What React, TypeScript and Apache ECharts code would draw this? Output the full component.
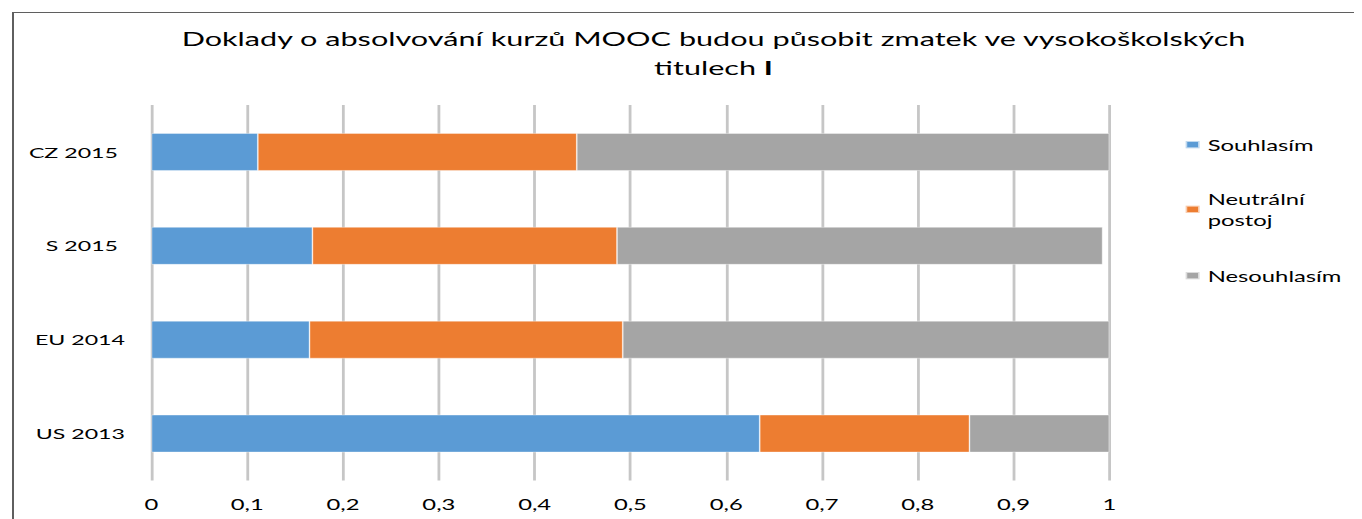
import React, { useEffect, useRef } from "react";
import * as echarts from "echarts";

const categories = ["CZ 2015 ", "S 2015 ", "EU 2014", "US 2013"];
const agree = [0.111, 0.168, 0.165, 0.635];
const neutral = [0.333, 0.318, 0.327, 0.219];
const disagree = [0.556, 0.507, 0.508, 0.146];
const seriesNames = ["Souhlasím", "Neutrální postoj", "Nesouhlasím"];
const colors = ["#5B9BD5", "#ED7D31", "#A5A5A5"];
const tickLabels = ["0", "0,1", "0,2", "0,3", "0,4", "0,5", "0,6", "0,7", "0,8", "0,9", "1"];
const titleLine1 = "Doklady o absolvování kurzů MOOC budou působit zmatek ve vysokoškolských";
const titleLine2a = "titulech ";
const titleLine2b = "I";

const SX = 1.62;
const OUTER_W = 1354;
const OUTER_H = 511;
const FONT = "Lato, 'Open Sans', sans-serif";

export default function App() {
  const ref = useRef<HTMLDivElement>(null);

  useEffect(() => {
    if (!ref.current) return;
    const chart = echarts.init(ref.current, null, { renderer: "svg" });
    const W = OUTER_W / SX;
    const px = (pageX: number) => (pageX - 8) / SX;
    const gridLeft = px(151.5);
    const gridRightEdge = px(1109);
    const legendLeft = px(1184);
    const titleStyle = { fontFamily: FONT, fontSize: 18.9, fontWeight: "normal" as const, color: "#000", lineHeight: 29 };
    const legendBase = {
      orient: "vertical" as const,
      left: legendLeft,
      itemWidth: 14 / SX,
      itemHeight: 7.3,
      padding: 0,
      icon: "rect",
      textStyle: { fontFamily: FONT, fontSize: 14.7, color: "#000", lineHeight: 21 },
    };
    chart.setOption({
      animation: false,
      color: colors,
      title: {
        text: `{t|${titleLine1}}\n{t|${titleLine2a}}{b|${titleLine2b}}`,
        left: px(713.5),
        textAlign: "center",
        top: 16,
        padding: 0,
        textStyle: {
          ...titleStyle,
          rich: {
            t: { ...titleStyle },
            b: { ...titleStyle, fontWeight: "bold" },
          },
        },
      },
      legend: [
        { ...legendBase, data: [seriesNames[0]], top: 136.7 - 10.5 },
        {
          ...legendBase,
          data: [seriesNames[1]],
          top: 201.3 - 31.5,
          formatter: () => "Neutrální\npostoj",
          textStyle: { ...legendBase.textStyle, padding: [21, 0, 0, 0] },
        },
        { ...legendBase, data: [seriesNames[2]], top: 267.7 - 10.5 },
      ],
      grid: {
        left: gridLeft,
        right: W - gridRightEdge,
        top: 97,
        bottom: OUTER_H - 472.5,
        containLabel: false,
      },
      xAxis: {
        type: "value",
        min: 0,
        max: 1,
        interval: 0.1,
        axisLine: { show: false },
        axisTick: { show: false },
        splitLine: { show: true, lineStyle: { color: "#c6c6c6", width: 2.8 / SX } },
        axisLabel: {
          fontFamily: FONT,
          fontSize: 14.7,
          color: "#000",
          margin: 16,
          formatter: (v: number) => tickLabels[Math.round(v * 10)] ?? String(v),
        },
      },
      yAxis: {
        type: "category",
        inverse: true,
        data: categories,
        axisLine: { show: false },
        axisTick: { show: false },
        splitLine: { show: false },
        axisLabel: {
          fontFamily: FONT,
          fontSize: 14.3,
          color: "#000",
          margin: (151.5 - 125) / SX,
          formatter: (v: string) =>
            v.endsWith(" ") ? `{p|${v.trim()}}` : `{n|${v}}`,
          rich: {
            p: { fontFamily: FONT, fontSize: 14.3, color: "#000", padding: [0, 7 / SX, 0, 0] },
            n: { fontFamily: FONT, fontSize: 14.3, color: "#000" },
          },
        },
      },
      series: [agree, neutral, disagree].map((d, i) => ({
        type: "bar",
        name: seriesNames[i],
        stack: "total",
        barWidth: "40%",
        data: d,
        itemStyle: { color: colors[i], borderColor: "rgba(255,255,255,0.6)", borderWidth: 0.5 },
      })),
    });
    return () => chart.dispose();
  }, []);

  return (
    <div style={{ position: "relative", width: OUTER_W, height: OUTER_H, overflow: "hidden" }}>
      <div
        style={{
          position: "absolute",
          left: 4,
          top: 4,
          width: OUTER_W + 20,
          height: OUTER_H + 20,
          borderTop: "1.5px solid #5f5f5f",
          borderLeft: "2px solid #5f5f5f",
        }}
      />
      <div
        ref={ref}
        style={{
          position: "absolute",
          left: 0,
          top: 0,
          width: OUTER_W / SX,
          height: OUTER_H,
          transform: `scaleX(${SX})`,
          transformOrigin: "0 0",
        }}
      />
    </div>
  );
}
